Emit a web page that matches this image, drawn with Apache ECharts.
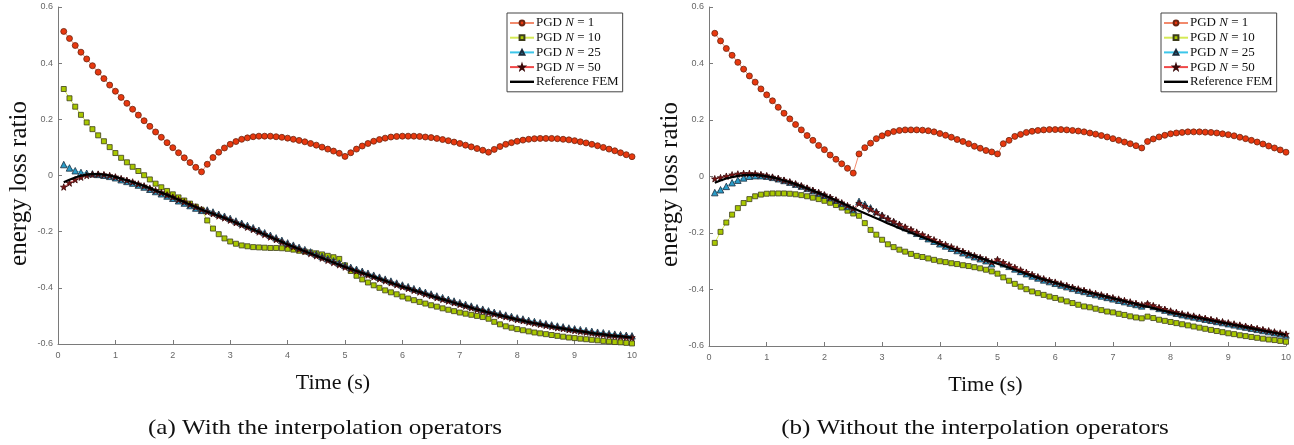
<!DOCTYPE html>
<html>
<head>
<meta charset="utf-8">
<script src="https://cdn.jsdelivr.net/npm/echarts@6/dist/echarts.min.js"></script>
<style>
html,body{margin:0;padding:0;background:#fff;}
#chart{width:1294px;height:445px;}
</style>
</head>
<body>
<div id="chart"></div>
<script>
// ---- sample times (s) ----
const timeS = [0.1,0.2,0.3,0.4,0.5,0.6,0.7,0.8,0.9,1.0,1.1,1.2,1.3,1.4,1.5,1.6,1.7,1.8,1.9,2.0,
2.1,2.2,2.3,2.4,2.5,2.6,2.7,2.8,2.9,3.0,3.1,3.2,3.3,3.4,3.5,3.6,3.7,3.8,3.9,4.0,
4.1,4.2,4.3,4.4,4.5,4.6,4.7,4.8,4.9,5.0,5.1,5.2,5.3,5.4,5.5,5.6,5.7,5.8,5.9,6.0,
6.1,6.2,6.3,6.4,6.5,6.6,6.7,6.8,6.9,7.0,7.1,7.2,7.3,7.4,7.5,7.6,7.7,7.8,7.9,8.0,
8.1,8.2,8.3,8.4,8.5,8.6,8.7,8.8,8.9,9.0,9.1,9.2,9.3,9.4,9.5,9.6,9.7,9.8,9.9,10.0];

// ---- (a) With the interpolation operators ----
const aN1 = [0.513,0.488,0.463,0.439,0.415,0.391,0.368,0.345,0.322,0.300,0.278,0.257,0.236,0.215,0.195,0.175,0.155,0.136,0.117,0.099,0.081,0.063,0.046,0.029,0.013,
0.040,0.064,0.083,0.098,0.111,0.121,0.129,0.134,0.138,0.140,0.140,0.140,0.138,0.136,0.133,0.129,0.125,0.120,0.114,0.108,0.101,0.094,0.087,0.079,0.068,
0.081,0.094,0.105,0.114,0.122,0.128,0.133,0.137,0.139,0.140,0.140,0.140,0.139,0.137,0.135,0.132,0.128,0.124,0.119,0.114,0.108,0.102,0.096,0.090,0.083,
0.093,0.103,0.111,0.117,0.122,0.126,0.129,0.131,0.132,0.132,0.132,0.131,0.129,0.127,0.124,0.120,0.116,0.111,0.106,0.100,0.094,0.088,0.081,0.074,0.067];
const aN10 = [0.308,0.275,0.245,0.216,0.189,0.165,0.143,0.122,0.101,0.080,0.063,0.047,0.031,0.016,0.001,-0.014,-0.029,-0.042,-0.055,-0.067,-0.078,-0.089,-0.100,-0.111,-0.122,
-0.160,-0.189,-0.209,-0.224,-0.235,-0.243,-0.249,-0.252,-0.255,-0.256,-0.257,-0.258,-0.258,-0.259,-0.261,-0.264,-0.268,-0.271,-0.274,-0.277,-0.281,-0.286,-0.291,-0.297,-0.320,
-0.340,-0.357,-0.370,-0.381,-0.391,-0.400,-0.409,-0.416,-0.423,-0.431,-0.438,-0.444,-0.450,-0.456,-0.462,-0.467,-0.473,-0.478,-0.483,-0.488,-0.492,-0.496,-0.500,-0.504,-0.510,
-0.521,-0.530,-0.537,-0.542,-0.547,-0.551,-0.555,-0.559,-0.562,-0.565,-0.568,-0.571,-0.574,-0.577,-0.579,-0.581,-0.583,-0.585,-0.587,-0.589,-0.591,-0.593,-0.594,-0.596,-0.598];
const aN25 = [0.039,0.027,0.017,0.011,0.008,0.006,0.004,0.001,-0.003,-0.008,-0.015,-0.021,-0.027,-0.034,-0.041,-0.049,-0.057,-0.065,-0.073,-0.081,-0.090,-0.098,-0.107,-0.116,-0.124,
-0.123,-0.130,-0.138,-0.145,-0.153,-0.162,-0.170,-0.178,-0.186,-0.195,-0.204,-0.213,-0.222,-0.231,-0.240,-0.248,-0.256,-0.264,-0.272,-0.280,-0.288,-0.296,-0.304,-0.312,-0.320,
-0.327,-0.334,-0.341,-0.348,-0.355,-0.362,-0.369,-0.376,-0.383,-0.390,-0.396,-0.403,-0.409,-0.416,-0.422,-0.429,-0.435,-0.441,-0.447,-0.453,-0.459,-0.465,-0.471,-0.476,-0.482,
-0.487,-0.492,-0.497,-0.502,-0.507,-0.511,-0.516,-0.520,-0.524,-0.528,-0.532,-0.536,-0.539,-0.543,-0.546,-0.549,-0.552,-0.555,-0.558,-0.560,-0.563,-0.565,-0.567,-0.569,-0.571];
const aN50 = [-0.041,-0.027,-0.015,-0.006,0.000,0.004,0.005,0.003,0.000,-0.005,-0.011,-0.017,-0.023,-0.030,-0.037,-0.045,-0.053,-0.061,-0.069,-0.077,-0.086,-0.094,-0.103,-0.112,-0.121,
-0.129,-0.136,-0.144,-0.151,-0.159,-0.168,-0.176,-0.184,-0.192,-0.201,-0.210,-0.219,-0.228,-0.237,-0.246,-0.254,-0.262,-0.270,-0.278,-0.286,-0.294,-0.302,-0.310,-0.318,-0.326,
-0.333,-0.340,-0.347,-0.354,-0.361,-0.368,-0.375,-0.382,-0.389,-0.396,-0.402,-0.409,-0.415,-0.422,-0.428,-0.435,-0.441,-0.447,-0.453,-0.459,-0.465,-0.471,-0.477,-0.482,-0.488,
-0.493,-0.498,-0.503,-0.508,-0.513,-0.517,-0.522,-0.526,-0.530,-0.534,-0.538,-0.542,-0.545,-0.549,-0.552,-0.555,-0.558,-0.561,-0.564,-0.566,-0.569,-0.571,-0.573,-0.575,-0.577];
const aRef = [-0.024,-0.015,-0.007,-0.001,0.003,0.005,0.005,0.003,0.000,-0.005,-0.011,-0.017,-0.023,-0.030,-0.037,-0.045,-0.053,-0.061,-0.069,-0.077,-0.086,-0.094,-0.103,-0.112,-0.121,
-0.129,-0.136,-0.144,-0.151,-0.159,-0.168,-0.176,-0.184,-0.192,-0.201,-0.210,-0.219,-0.228,-0.237,-0.246,-0.254,-0.262,-0.270,-0.278,-0.286,-0.294,-0.302,-0.310,-0.318,-0.326,
-0.333,-0.340,-0.347,-0.354,-0.361,-0.368,-0.375,-0.382,-0.389,-0.396,-0.402,-0.409,-0.415,-0.422,-0.428,-0.435,-0.441,-0.447,-0.453,-0.459,-0.465,-0.471,-0.477,-0.482,-0.488,
-0.493,-0.498,-0.503,-0.508,-0.513,-0.517,-0.522,-0.526,-0.530,-0.534,-0.538,-0.542,-0.545,-0.549,-0.552,-0.555,-0.558,-0.561,-0.564,-0.566,-0.569,-0.571,-0.573,-0.575,-0.577];

// ---- (b) Without the interpolation operators ----
const bN1 = [0.507,0.480,0.453,0.429,0.404,0.380,0.356,0.334,0.310,0.289,0.268,0.245,0.224,0.204,0.184,0.165,0.145,0.128,0.110,0.095,0.076,0.061,0.045,0.029,0.012,
0.080,0.102,0.118,0.134,0.144,0.153,0.159,0.163,0.165,0.165,0.165,0.164,0.162,0.158,0.152,0.146,0.139,0.131,0.124,0.116,0.107,0.100,0.092,0.087,0.080,
0.116,0.128,0.142,0.149,0.156,0.160,0.163,0.165,0.166,0.166,0.166,0.165,0.163,0.161,0.158,0.154,0.150,0.145,0.140,0.134,0.128,0.122,0.116,0.109,0.101,
0.124,0.133,0.140,0.146,0.151,0.154,0.156,0.158,0.158,0.158,0.157,0.156,0.154,0.151,0.148,0.144,0.139,0.134,0.128,0.122,0.115,0.108,0.101,0.094,0.086];
const bN10 = [-0.235,-0.196,-0.163,-0.135,-0.112,-0.094,-0.080,-0.070,-0.064,-0.061,-0.060,-0.060,-0.060,-0.061,-0.063,-0.066,-0.070,-0.075,-0.080,-0.086,-0.093,-0.101,-0.110,-0.121,-0.131,
-0.139,-0.165,-0.189,-0.206,-0.224,-0.240,-0.250,-0.259,-0.266,-0.274,-0.281,-0.285,-0.290,-0.295,-0.300,-0.303,-0.307,-0.310,-0.314,-0.317,-0.321,-0.325,-0.330,-0.336,-0.344,
-0.357,-0.369,-0.380,-0.390,-0.399,-0.407,-0.413,-0.419,-0.425,-0.430,-0.436,-0.442,-0.448,-0.454,-0.460,-0.463,-0.468,-0.473,-0.478,-0.481,-0.486,-0.490,-0.495,-0.499,-0.502,
-0.496,-0.501,-0.507,-0.511,-0.515,-0.519,-0.523,-0.527,-0.531,-0.535,-0.539,-0.543,-0.547,-0.551,-0.555,-0.558,-0.562,-0.565,-0.568,-0.571,-0.574,-0.577,-0.579,-0.582,-0.585];
const bN25 = [-0.057,-0.047,-0.035,-0.022,-0.013,-0.005,0.001,0.003,0.003,0.001,-0.003,-0.008,-0.014,-0.020,-0.027,-0.034,-0.042,-0.050,-0.058,-0.066,-0.075,-0.084,-0.095,-0.106,-0.117,
-0.088,-0.098,-0.111,-0.124,-0.137,-0.149,-0.160,-0.171,-0.181,-0.191,-0.201,-0.211,-0.220,-0.229,-0.238,-0.246,-0.254,-0.262,-0.270,-0.277,-0.284,-0.291,-0.298,-0.309,-0.297,
-0.309,-0.318,-0.327,-0.336,-0.344,-0.352,-0.359,-0.366,-0.372,-0.378,-0.384,-0.390,-0.396,-0.402,-0.407,-0.413,-0.418,-0.423,-0.428,-0.433,-0.438,-0.443,-0.448,-0.453,-0.458,
-0.452,-0.460,-0.467,-0.473,-0.479,-0.484,-0.489,-0.493,-0.497,-0.501,-0.505,-0.509,-0.513,-0.517,-0.521,-0.525,-0.529,-0.533,-0.537,-0.541,-0.545,-0.549,-0.553,-0.557,-0.561];
const bN50 = [-0.008,-0.004,0.001,0.006,0.009,0.011,0.011,0.010,0.007,0.003,-0.002,-0.007,-0.013,-0.019,-0.026,-0.033,-0.041,-0.049,-0.057,-0.065,-0.074,-0.083,-0.093,-0.103,-0.114,
-0.095,-0.105,-0.116,-0.127,-0.139,-0.150,-0.160,-0.170,-0.179,-0.188,-0.197,-0.206,-0.215,-0.224,-0.233,-0.241,-0.249,-0.257,-0.265,-0.273,-0.280,-0.287,-0.294,-0.303,-0.294,
-0.304,-0.313,-0.322,-0.331,-0.339,-0.347,-0.355,-0.362,-0.368,-0.374,-0.380,-0.386,-0.392,-0.398,-0.403,-0.409,-0.414,-0.419,-0.424,-0.429,-0.434,-0.439,-0.444,-0.449,-0.454,
-0.450,-0.457,-0.464,-0.470,-0.476,-0.481,-0.486,-0.490,-0.494,-0.498,-0.502,-0.506,-0.510,-0.514,-0.518,-0.522,-0.526,-0.530,-0.534,-0.538,-0.542,-0.546,-0.550,-0.554,-0.558];
const bRef = [-0.022,-0.014,-0.007,-0.002,0.002,0.005,0.006,0.006,0.004,0.001,-0.003,-0.008,-0.014,-0.020,-0.027,-0.034,-0.042,-0.050,-0.058,-0.066,-0.075,-0.084,-0.093,-0.103,-0.112,
-0.121,-0.130,-0.139,-0.148,-0.157,-0.166,-0.174,-0.183,-0.191,-0.199,-0.207,-0.215,-0.223,-0.231,-0.239,-0.246,-0.253,-0.260,-0.267,-0.274,-0.281,-0.288,-0.295,-0.302,-0.309,
-0.316,-0.323,-0.330,-0.337,-0.344,-0.351,-0.358,-0.364,-0.370,-0.376,-0.382,-0.388,-0.394,-0.400,-0.405,-0.411,-0.416,-0.421,-0.426,-0.431,-0.436,-0.441,-0.446,-0.451,-0.456,
-0.461,-0.466,-0.471,-0.476,-0.481,-0.485,-0.489,-0.493,-0.497,-0.501,-0.505,-0.509,-0.513,-0.517,-0.521,-0.525,-0.529,-0.533,-0.537,-0.541,-0.545,-0.549,-0.553,-0.557,-0.561];

const seriesNames = ['PGD N = 1','PGD N = 10','PGD N = 25','PGD N = 50','Reference FEM'];
const yTicks = [-0.6,-0.4,-0.2,0,0.2,0.4,0.6];
const xAxisTitle = 'Time (s)';
const yAxisTitle = 'energy loss ratio';
const captions = ['(a) With the interpolation operators','(b) Without the interpolation operators'];

// ---- styles ----
const STAR = 'path://M0,-10L2.35,-3.24L9.51,-3.09L3.8,1.24L5.88,8.09L0,4L-5.88,8.09L-3.8,1.24L-9.51,-3.09L-2.35,-3.24Z';
const LINE_ICON = 'path://M0,0L24,0L24,2.4L0,2.4Z';
const styles = [
  {symbol:'circle', size:6, line:'#f28a6c', fill:'#e8380e', border:'#6a2410'},
  {symbol:'rect', size:5, line:'#d5ea55', fill:'#a9c800', border:'#3c3c1c'},
  {symbol:'triangle', size:6.5, line:'#3cc6ea', fill:'#2a9cc8', border:'#1c2c3c'},
  {symbol:STAR, size:6.5, line:'#f04848', fill:'#7a1414', border:'#3a0808'},
  {symbol:'none', size:0, line:'#000000', fill:'#000000', border:'#000000'}
];

const pair = arr => arr.map((v,i) => [timeS[i], v]);
const dataSets = [[aN1,aN10,aN25,aN50,aRef],[bN1,bN10,bN25,bN50,bRef]];

const chart = echarts.init(document.getElementById('chart'), null, {renderer:'canvas'});

const grids = [
  {left:58, top:7, width:574, height:337},
  {left:709, top:7, width:578, height:339}
];
const serif = 'Liberation Serif';
const axisCol = '#7a7a7a';

function xAx(i){
  return {type:'value', gridIndex:i, min:0, max:10, interval:1,
    name:xAxisTitle, nameLocation:'middle', nameGap:28,
    nameTextStyle:{fontFamily:serif, fontSize:22, color:'#111', padding:[0,24,0,0]},
    axisLine:{show:true, onZero:false, lineStyle:{color:axisCol, width:1}},
    axisTick:{show:true, inside:true, length:4, lineStyle:{color:axisCol}},
    axisLabel:{show:true, fontSize:9, color:'#666', fontFamily:'Liberation Sans', margin:7},
    splitLine:{show:false}};
}
function yAx(i){
  return {type:'value', gridIndex:i, min:yTicks[0], max:yTicks[yTicks.length-1], interval:0.2,
    name:yAxisTitle, nameLocation:'middle', nameGap:26,
    nameTextStyle:{fontFamily:serif, fontSize:25, color:'#111', padding:[0,16,0,0]},
    axisLine:{show:true, onZero:false, lineStyle:{color:axisCol, width:1}},
    axisTick:{show:true, inside:true, length:4, lineStyle:{color:axisCol}},
    axisLabel:{show:true, fontSize:9, color:'#666', fontFamily:'Liberation Sans', margin:5,
      formatter: v => Math.abs(v) < 1e-9 ? '0' : v.toFixed(1)},
    splitLine:{show:false}};
}

const series = [];
dataSets.forEach((set, g) => {
  set.forEach((arr, k) => {
    const s = styles[k];
    series.push({
      name: seriesNames[k], type:'line', xAxisIndex:g, yAxisIndex:g,
      data: pair(arr), symbol: s.symbol, symbolSize: s.size, showSymbol: k < 4, showAllSymbol:true,
      lineStyle:{color:s.line, width: k === 4 ? 2.2 : 1},
      itemStyle:{color: k===4 ? '#000' : s.fill, borderColor:s.border, borderWidth:0.8},
      emphasis:{disabled:true}, z: 2 + k, animation:false
    });
  });
});

function legendAt(left, top){
  return {show:true, orient:'vertical', left:left, top:top,
    data: seriesNames.map((n,k) => k === 4 ? {name:n, icon:LINE_ICON, itemStyle:{color:'#000', borderWidth:0}} : {name:n}),
    itemWidth:24, itemHeight:6, itemGap:0.7,
    backgroundColor:'#fff', borderColor:'#444', borderWidth:1, borderRadius:0,
    padding:[3,4,3,2],
    textStyle:{fontFamily:serif, fontSize:13, lineHeight:14, color:'#111', padding:[0,0,0,-3],
      rich:{i:{fontFamily:serif, fontSize:13, lineHeight:14, fontStyle:'italic', color:'#111'}}},
    formatter: n => n.replace('N', '{i|N}'),
    selectedMode:false};
}

chart.setOption({
  backgroundColor:'#fff',
  animation:false,
  grid: grids,
  xAxis: [xAx(0), xAx(1)],
  yAxis: [yAx(0), yAx(1)],
  legend: [legendAt(507, 13), legendAt(1161, 13)],
  series: series,
  graphic: [
    {type:'text', x:325, y:428, scaleX:1.14, style:{text:captions[0], textAlign:'center', textVerticalAlign:'middle', fontFamily:serif, fontSize:22, fill:'#111'}},
    {type:'text', x:975, y:428, scaleX:1.14, style:{text:captions[1], textAlign:'center', textVerticalAlign:'middle', fontFamily:serif, fontSize:22, fill:'#111'}}
  ]
});
</script>
</body>
</html>
